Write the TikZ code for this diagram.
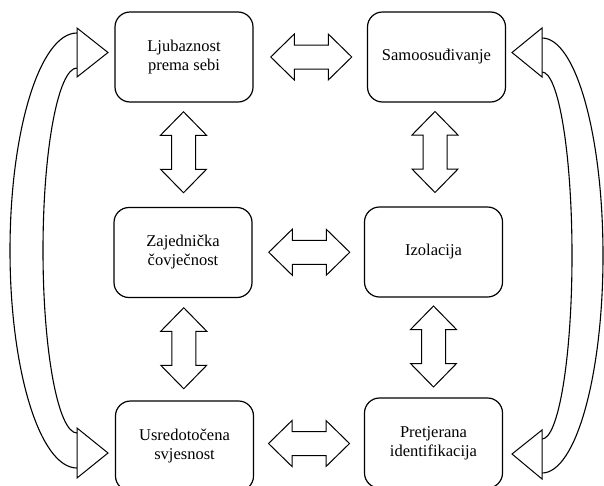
\documentclass[tikz,border=0pt]{standalone}
\usepackage{fontspec}
\setmainfont{Liberation Serif}
\usetikzlibrary{calc}
\tikzset{
  box/.style={draw, line width=1.2pt, rounded corners=15pt, minimum width=138pt, minimum height=90pt, inner sep=0pt, align=center, font=\fontsize{16.5}{19}\selectfont},
  blockarrow/.style={draw, line width=1pt, fill=white, line join=miter},
  curvearrow/.style={draw, line width=1.1pt},
  dblarrow/.pic={
    \path[blockarrow] (-40.5,0) -- (-17,-23) -- (-17,-12) -- (17,-12) -- (17,-23) -- (40.5,0) -- (17,23) -- (17,12) -- (-17,12) -- (-17,23) -- cycle;
  }
}
\begin{document}
\begin{tikzpicture}[x=1pt,y=-1pt]
\useasboundingbox (0,0) rectangle (604,485);
\clip (0,0) rectangle (604,485);

% boxes
\node[box] (ljub) at (184,57) {Ljubaznost\\prema sebi};
\node[box] (samo) at (436.5,57) {Samoosuđivanje};
\node[box] (zaj) at (183,252.5) {Zajednička\\čovječnost};
\node[box] (izo) at (433.5,252) {Izolacija};
\node[box] (usr) at (184.5,446) {Usredotočena\\svjesnost};
\node[box] (pre) at (433.5,443) {Pretjerana\\identifikacija};

% horizontal double arrows
\pic at ($(ljub.east)!0.5!(samo.west)+(1,0)$) {dblarrow};
\pic at ($(zaj.east)!0.5!(izo.west)+(1,0)$) {dblarrow};
\pic at ($(usr.east)!0.5!(pre.west)+(0,-1)$) {dblarrow};

% vertical double arrows
\pic[rotate=90] at ($(ljub.south)!0.5!(zaj.north)+(0,-2.5)$) {dblarrow};
\pic[rotate=90] at ($(zaj.south)!0.5!(usr.north)+(0,-1)$) {dblarrow};
\pic[rotate=90] at ($(samo.south)!0.5!(izo.north)+(0,-2.5)$) {dblarrow};
\pic[rotate=90] at ($(izo.south)!0.5!(pre.north)+(0,-1)$) {dblarrow};

% left curved double arrow
\draw[curvearrow] (77,33) .. controls (40,33) and (10,130.4) .. (10,250.5) .. controls (10,370.6) and (40,468) .. (77,468);
\draw[curvearrow] (77,68) .. controls (58.2,68) and (43,149.7) .. (43,250.5) .. controls (43,351.3) and (58.2,433) .. (77,433);
\path[blockarrow] (77,28) -- (108,52.5) -- (77,77) -- cycle;
\path[blockarrow] (77,428) -- (108,453) -- (77,478) -- cycle;

% right curved double arrow
\draw[curvearrow] (542,38) .. controls (575.7,38) and (603,135.4) .. (603,255.5) .. controls (603,375.6) and (575.7,473) .. (542,473);
\draw[curvearrow] (542,72) .. controls (558.6,72) and (572,154.2) .. (572,255.5) .. controls (572,356.8) and (558.6,439) .. (542,439);
\path[blockarrow] (542,28) -- (512,52.5) -- (542,77) -- cycle;
\path[blockarrow] (542,430) -- (512,454) -- (542,479) -- cycle;
\end{tikzpicture}
\end{document}
